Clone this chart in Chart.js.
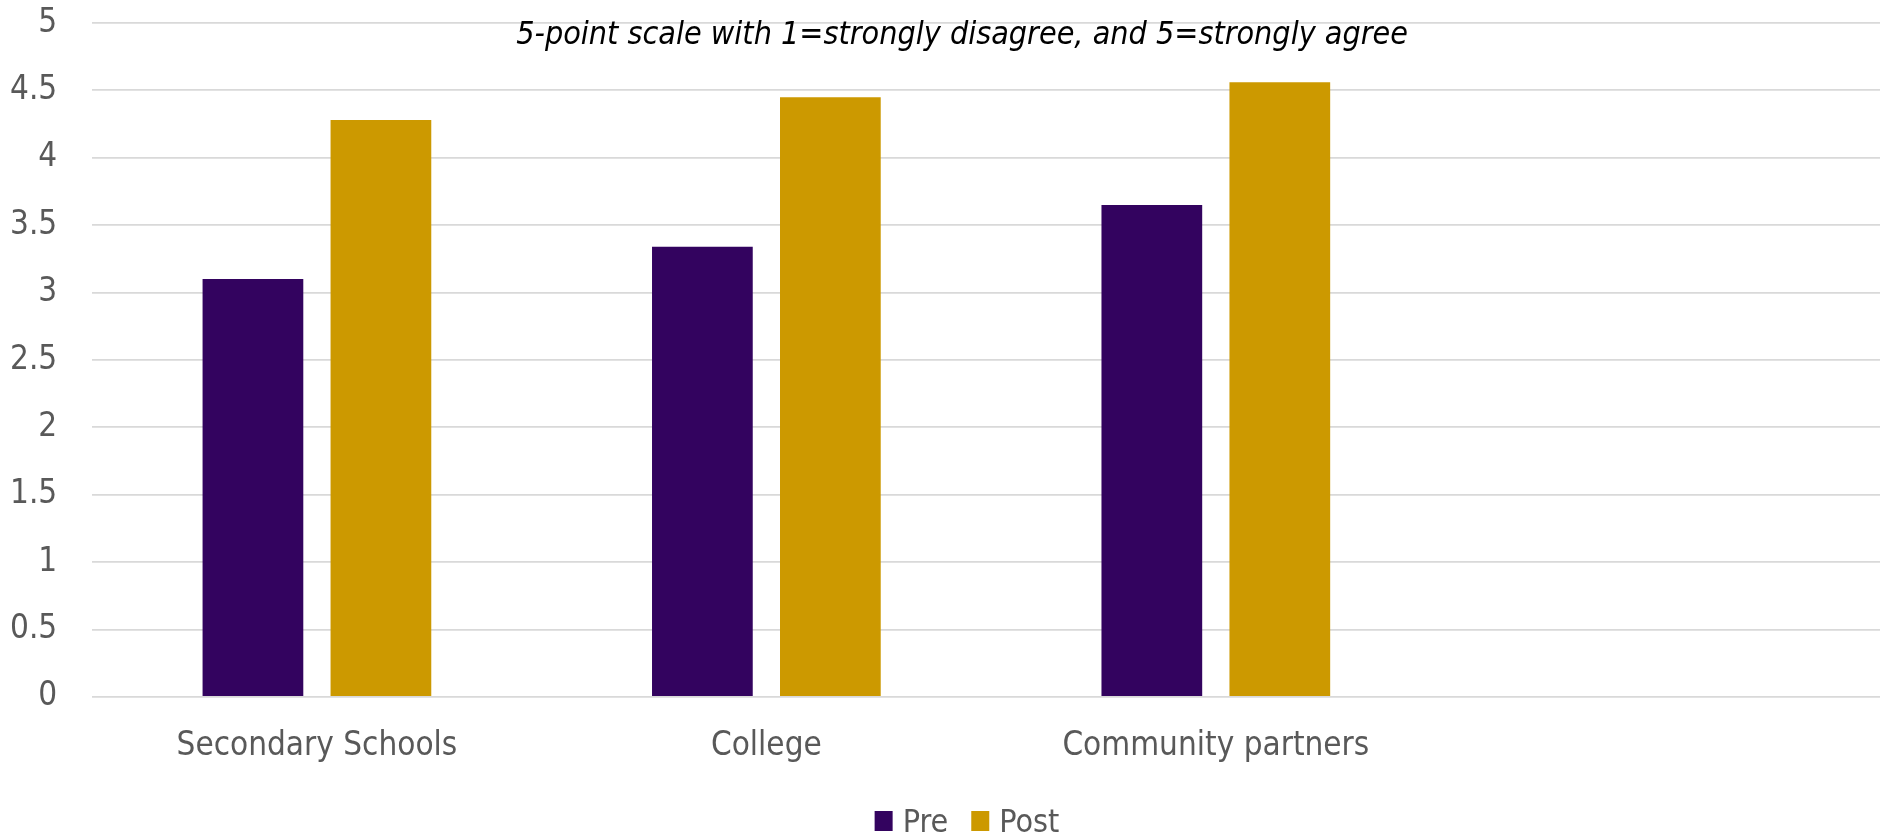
<!DOCTYPE html>
<html>
<head>
<meta charset="utf-8">
<script src="https://cdn.jsdelivr.net/npm/chart.js@4"></script>
<style>
    html, body { margin: 0; padding: 0; background: #ffffff; overflow: hidden; }
    /* plot runs a little past the right edge of the window */
    #wrap { width: 1890px; height: 836px; }
</style>
</head>
<body>
<div id="wrap"><canvas id="bars"></canvas></div>
<script>
const categories = ['Secondary Schools', 'College', 'Community partners', ''];
const preScores = [3.1, 3.34, 3.65, null];
const postScores = [4.28, 4.45, 4.56, null];
const scaleNote = '5-point scale with 1=strongly disagree, and 5=strongly agree';

const fontFamily = "'Liberation Sans Narrow', 'DejaVu Sans Condensed', sans-serif";
const textGray = '#595959';

// note sits inside the plot, just under the top gridline
const notePlugin = {
    id: 'scaleNote',
    afterDraw(chart) {
        const area = chart.chartArea;
        const ctx = chart.ctx;
        ctx.save();
        ctx.font = 'italic 32px ' + fontFamily;
        ctx.fillStyle = '#000000';
        ctx.textAlign = 'center';
        ctx.textBaseline = 'alphabetic';
        ctx.fillText(scaleNote, (area.left + area.right) / 2 - 29, area.top + 21);
        ctx.restore();
    }
};

// legend row along the bottom edge, boxes close to their text
const legendRow = {
    id: 'legendRow',
    afterDraw(chart) {
        const ctx = chart.ctx;
        const sets = chart.data.datasets;
        const boxW = 18, boxH = 20, textGap = 10, itemGap = 23;
        ctx.save();
        ctx.font = '32px ' + fontFamily;
        let total = 0;
        const widths = sets.map(ds => ctx.measureText(ds.label).width);
        widths.forEach((w, i) => { total += boxW + textGap + w + (i ? itemGap : 0); });
        let x = 967 - total / 2;
        const baseline = chart.height - 4;
        ctx.textBaseline = 'alphabetic';
        ctx.textAlign = 'left';
        sets.forEach((ds, i) => {
            ctx.fillStyle = ds.backgroundColor;
            ctx.fillRect(x, baseline - 21, boxW, boxH);
            x += boxW + textGap;
            ctx.fillStyle = textGray;
            ctx.fillText(ds.label, x, baseline);
            x += widths[i] + itemGap;
        });
        ctx.restore();
    }
};

const ctx = document.getElementById('bars').getContext('2d');
const chart = new Chart(ctx, {
    type: 'bar',
    data: {
        labels: categories,
        datasets: [{
            label: 'Pre',
            data: preScores,
            backgroundColor: '#33035f',
            categoryPercentage: 0.5695,
            barPercentage: 0.787
        }, {
            label: 'Post',
            data: postScores,
            backgroundColor: '#cc9900',
            categoryPercentage: 0.5695,
            barPercentage: 0.787
        }]
    },
    options: {
        responsive: true,
        maintainAspectRatio: false,
        animation: false,
        layout: {
            padding: { left: 10, right: 0, top: 23, bottom: 47.5 }
        },
        plugins: {
            legend: { display: false },
            tooltip: { enabled: false }
        },
        scales: {
            x: {
                grid: { display: false },
                border: { display: false },
                ticks: {
                    color: textGray,
                    font: { family: fontFamily, size: 33 },
                    padding: 22,
                    maxRotation: 0,
                    autoSkip: false
                }
            },
            y: {
                min: 0,
                max: 5,
                grid: {
                    color: '#d9d9d9',
                    lineWidth: 1.8,
                    drawTicks: true,
                    tickLength: 35,
                    tickColor: 'rgba(0,0,0,0)'
                },
                border: { display: false },
                ticks: {
                    stepSize: 0.5,
                    color: textGray,
                    font: { family: fontFamily, size: 33 },
                    padding: 0,
                    callback: (value) => String(value)
                }
            }
        }
    },
    plugins: [notePlugin, legendRow]
});
</script>
</body>
</html>
